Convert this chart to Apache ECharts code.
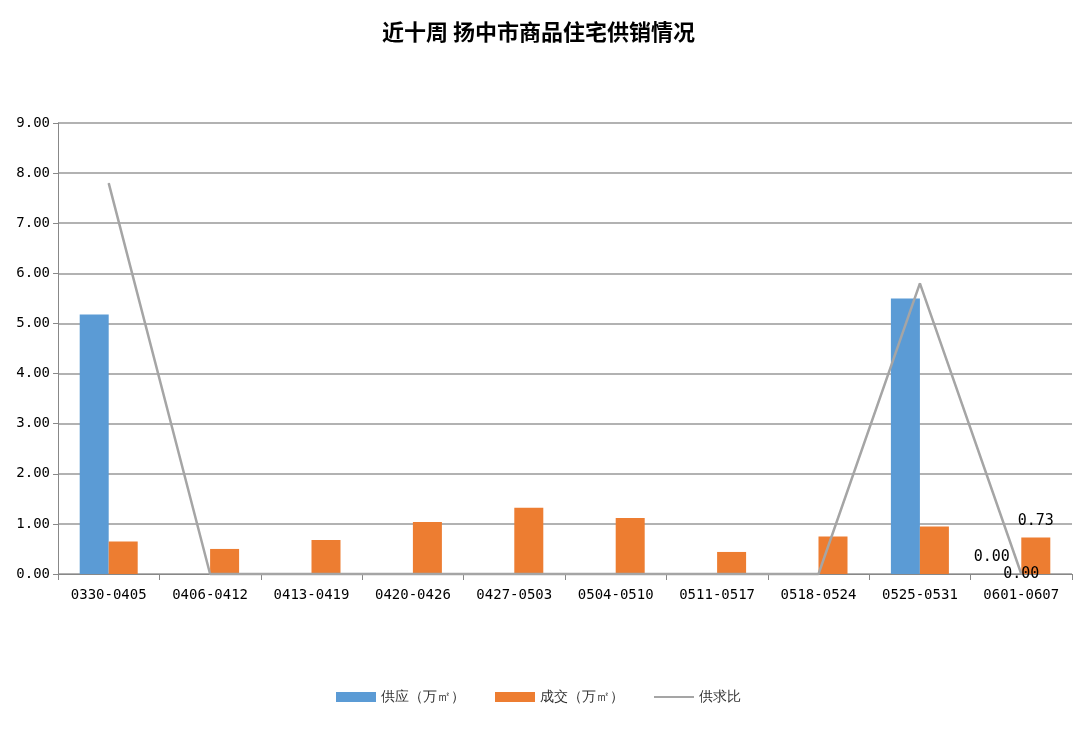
<!DOCTYPE html><html><head><meta charset="utf-8"><script src="https://cdn.jsdelivr.net/npm/echarts@6/dist/echarts.min.js"></script></head><body style="margin:0"><div id="c" style="width:1077px;height:729px"></div><script>
const categories=['0330-0405','0406-0412','0413-0419','0420-0426','0427-0503','0504-0510','0511-0517','0518-0524','0525-0531','0601-0607'];
const supply=[5.18,0,0,0,0,0,0,0,5.5,0];
const deal=[0.65,0.5,0.68,1.04,1.32,1.12,0.44,0.75,0.95,0.73];
const ratio=[7.8,0,0,0,0,0,0,0,5.8,0];
const last=categories.length-1;
const lbl=(i)=>({show:i===last,position:'top',color:'#000',fontSize:15,fontFamily:'DejaVu Sans Mono',formatter:p=>p.value.toFixed(2)});
const c=echarts.init(document.getElementById('c'));
c.setOption({animation:false,
title:{text:'近十周 扬中市商品住宅供销情况',left:'center',top:16,textStyle:{fontSize:22,fontWeight:'bold',color:'#000',fontFamily:'Noto Sans CJK SC'}},
legend:{bottom:20,itemWidth:40,itemHeight:10,itemGap:30,textStyle:{fontSize:14,color:'#333'},data:[{name:'供应（万㎡）',icon:'rect'},{name:'成交（万㎡）',icon:'rect'},{name:'供求比',icon:'path://M0,4H40V6H0Z'}]},
grid:{left:58,right:5,top:123,bottom:155},
xAxis:{type:'category',data:categories,axisTick:{show:true,length:6,lineStyle:{color:'#888'}},axisLine:{lineStyle:{color:'#888'}},axisLabel:{color:'#000',fontSize:14,margin:14,fontFamily:'DejaVu Sans Mono'}},
yAxis:{type:'value',min:0,max:9,interval:1,axisLine:{show:true,lineStyle:{color:'#888'}},axisTick:{show:true,lineStyle:{color:'#888'}},splitLine:{lineStyle:{color:'#999',width:1.5}},axisLabel:{color:'#000',fontSize:14,fontFamily:'DejaVu Sans Mono',formatter:v=>v.toFixed(2)}},
series:[
{name:'供应（万㎡）',type:'bar',data:supply.map((v,i)=>({value:v,label:{...lbl(i),offset:[-15,-4]}})),barWidth:29,barGap:'0%',itemStyle:{color:'#5b9bd5'}},
{name:'成交（万㎡）',type:'bar',data:deal.map((v,i)=>({value:v,label:{...lbl(i),offset:[0,-4]}})),barWidth:29,itemStyle:{color:'#ed7d31'}},
{name:'供求比',type:'line',clip:false,symbol:'circle',symbolSize:1,showSymbol:true,data:ratio.map((v,i)=>({value:v,label:{...lbl(i),position:'inside',offset:[0,-1]}})),lineStyle:{color:'#a5a5a5',width:2.5},itemStyle:{color:'#a5a5a5'},labelLayout:{hideOverlap:false}}
]});
</script></body></html>
